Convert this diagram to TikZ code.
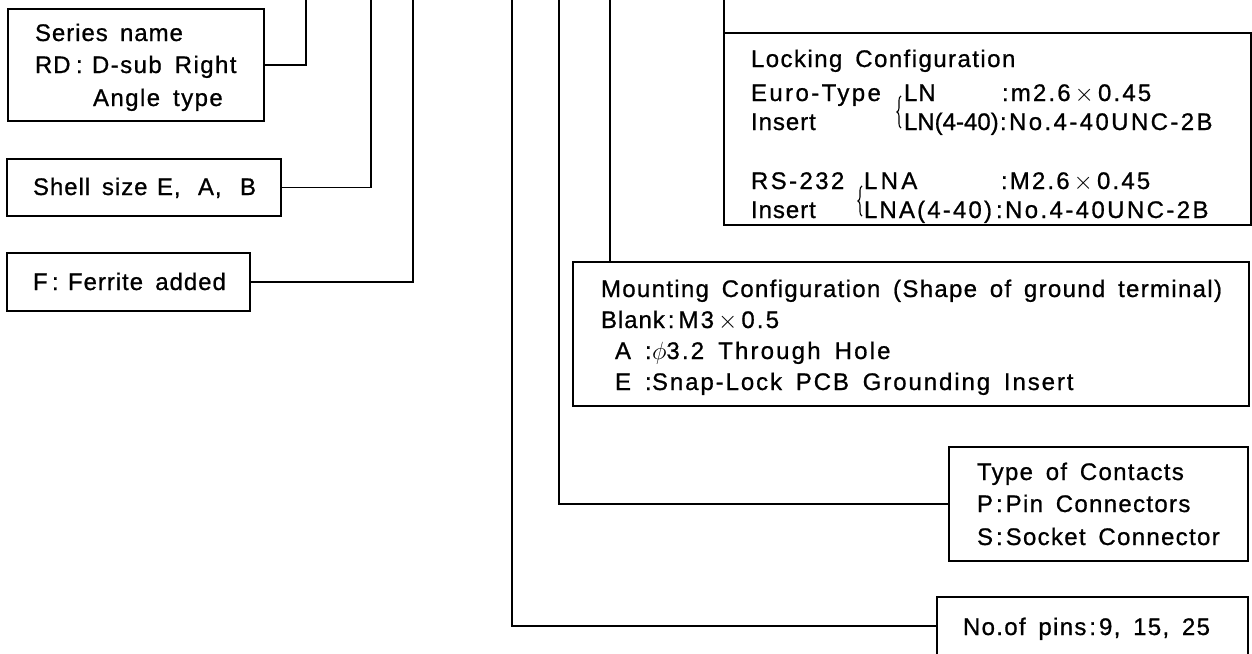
\documentclass[tikz,border=0pt]{standalone}
\usepackage{fontspec}
\setmainfont{Liberation Sans}[LetterSpace=4,WordSpace=1.6,FakeBold=0.8]
\usetikzlibrary{decorations.pathreplacing}
\newcommand\txtfont{\fontsize{24}{30}\selectfont}
\newcommand\widefont{\addfontfeature{LetterSpace=5.5}}
\newcommand\tms{\,$\times$\,}
\newcommand\lsp[2]{{\addfontfeature{LetterSpace=#1}#2}}
\begin{document}
\begin{tikzpicture}[x=1pt,y=-1pt,
  box/.style={draw, line width=1.5pt, rectangle, inner sep=0pt, outer sep=0pt, anchor=north west},
  txt/.style={anchor=base west, inner sep=0pt, outer sep=0pt, font=\txtfont},
  widetxt/.style={txt, font=\txtfont\widefont},
  conn/.style={line width=1.5pt},
  lockbrace/.style={decorate, decoration={brace, amplitude=4pt}, line width=1.1pt}]
\useasboundingbox (0,0) rectangle (1252,653);

% boxes
\node[box, minimum width=256pt, minimum height=112pt] (ser) at (8,9) {};
\node[box, minimum width=274pt, minimum height=57pt] (shell) at (7,159) {};
\node[box, minimum width=243pt, minimum height=58pt] (fer) at (7,253) {};
\node[box, minimum width=527pt, minimum height=192pt] (lock) at (724,33) {};
\node[box, minimum width=676pt, minimum height=144pt] (mount) at (573,262) {};
\node[box, minimum width=299pt, minimum height=114pt] (cont) at (949,447) {};
\node[box, minimum width=311pt, minimum height=58pt] (pins) at (937,597) {};

% free ends at the top
\coordinate (serTop) at (306,0);
\coordinate (shellTop) at (371,0);
\coordinate (ferTop) at (413,0);
\coordinate (pinsTop) at (512,0);
\coordinate (contTop) at (559,0);
\coordinate (mountTop) at (610,0);
\coordinate (lockTop) at (724,0);

% connectors
\draw[conn] (ser.east) -| (serTop);
\draw[conn] (shell.east) -| (shellTop);
\draw[conn] (fer.east) -| (ferTop);
\draw[conn] (pinsTop) |- (pins.west);
\draw[conn] (contTop) |- (cont.west);
\draw[conn] (mountTop) -- (mountTop |- mount.north);
\draw[conn] (lockTop) -- (lock.north west);

% texts
\node[txt] (serL1) at (35,41) {Series name};
\node[txt] (serL2) at (35,73) {\makebox[41pt][l]{RD}\makebox[16pt][l]{:}\lsp{6}{D-sub Right}};
\node[txt] (serL3) at (93,106) {\lsp{6}{Angle type}};
\node[txt] (shellL) at (33,195) {\makebox[69pt][l]{Shell}\makebox[55pt][l]{size}\makebox[41pt][l]{E,}\makebox[42pt][l]{A,}B};
\node[txt] (ferL) at (33,290) {\makebox[19pt][l]{F}\makebox[16pt][l]{:}Ferrite added};

\node[txt] (lk1) at (751,67) {\lsp{6}{Locking Configuration}};
\node[txt] (lk2) at (751,101) {\makebox[153pt][l]{\lsp{10}{Euro-Type}}\makebox[98pt][l]{LN}\lsp{9}{:m2.6\tms0.45}};
\node[txt] (lk3) at (751,130) {\makebox[153pt][l]{Insert}\makebox[96pt][l]{\lsp{0}{LN(4-40)}}\lsp{10}{:No.4-40UNC-2B}};
\node[txt] (lk4) at (751,189) {\makebox[113pt][l]{\lsp{10}{RS-232}}\makebox[137pt][l]{\lsp{14}{LNA}}\lsp{9}{:M2.6\tms0.45}};
\node[txt] (lk5) at (751,218) {\makebox[113pt][l]{Insert}\makebox[132pt][l]{\lsp{9}{LNA(4-40)}}\lsp{10}{:No.4-40UNC-2B}};
\draw[lockbrace] (901,128) -- (901,96);
\draw[lockbrace] (862,216) -- (862,186);

\node[widetxt] (mt1) at (601,297) {Mounting Configuration (Shape of ground terminal)};
\node[txt] (mt2) at (601,328) {Blank\hspace{3pt}:\hspace{4pt}\lsp{9}{M3\tms0.5}};
\node[txt] (mt3) at (615,359) {\makebox[30pt][l]{A}\makebox[7pt][l]{:}\lsp{9}{$\phi$3.2 Through Hole}};
\node[txt] (mt4) at (615,390) {\makebox[30pt][l]{E}\makebox[7pt][l]{:}\lsp{8}{Snap-Lock PCB Grounding Insert}};

\node[widetxt] (ct1) at (977,480) {Type of Contacts};
\node[widetxt] (ct2) at (977,512) {P\hspace{3pt}:\hspace{3pt}Pin Connectors};
\node[widetxt] (ct3) at (977,545) {S\hspace{3pt}:\hspace{3pt}Socket Connector};

\node[widetxt] (pn1) at (963,635) {No.of pins\hspace{3pt}:\hspace{3pt}9, 15, 25};
\end{tikzpicture}
\end{document}
